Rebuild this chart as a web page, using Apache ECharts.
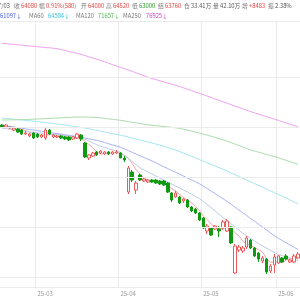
<!DOCTYPE html>
<html><head><meta charset="utf-8">
<script src="https://cdn.jsdelivr.net/npm/echarts@6/dist/echarts.min.js"></script>
<style>html,body{margin:0;padding:0;background:#fff}#c{width:300px;height:300px}</style>
</head><body><div id="c"></div>
<script>
const dates = ['02-18','02-19','02-20','02-21','02-24','02-25','02-26','02-27','02-28',
'03-03','03-04','03-05','03-06','03-07','03-10','03-11','03-12','03-13','03-14','03-17','03-18','03-19','03-20','03-21','03-24','03-25','03-26','03-27','03-28','03-31',
'04-01','04-02','04-03','04-07','04-08','04-09','04-10','04-11','04-14','04-15','04-16','04-17','04-18','04-21','04-22','04-23','04-24','04-25','04-28','04-29','04-30',
'05-06','05-07','05-08','05-09','05-12','05-13','05-14','05-15','05-16','05-19','05-20','05-21','05-22','05-23','05-26','05-27','05-28','05-29','05-30',
'06-03','06-04','06-05','06-06','06-09','06-10'];
const opens = [75200,75000,74900,74700,74800,74700,74300,74100,74400,74300,74000,73900,74700,74000,74000,74100,74000,74000,73800,73900,74200,73400,71900,72100,72500,72400,72300,72500,72300,72400,72400,71900,68500,70500,68700,70200,69600,69500,69700,69700,69600,69600,69400,68400,68000,68000,67600,67700,67000,66800,66400,65900,64600,64900,64800,64800,64900,64600,65000,60400,62700,62600,63000,63700,62900,62400,61600,61800,60600,61200,61400,61900,62100,61500,61500,61900];
const closes = [75000,75200,75000,74900,74500,74300,74400,74300,73900,74000,74200,74700,74300,74200,74100,73900,73800,73700,74000,74300,73800,72000,72200,72400,72200,72600,72500,72300,72500,72500,71900,71700,70900,69700,69400,69700,69800,69700,69500,69400,69300,69200,68500,67700,68400,67400,67800,67000,66600,66400,65700,64900,65100,64200,65100,64600,65500,65600,63400,63100,63000,62900,63900,62900,62100,61800,61900,60500,61100,62000,62100,61500,61800,61700,62100,62300];
const lows = [74900,74900,74800,74600,74400,74200,74200,74000,73800,73900,73900,73700,74200,73900,73900,73800,73700,73600,73700,73800,73600,71900,71700,72000,72100,72300,72200,72200,72200,72300,71900,71500,68300,69500,68300,69600,69500,69400,69400,69300,69200,69100,68400,67500,67900,67300,67400,66900,66500,66300,65600,64800,64300,64100,64700,64000,64700,64500,63300,60300,62500,62400,62800,62800,62000,61500,61400,60300,60400,60400,61300,61400,61700,61400,61400,61800];
const highs = [75300,75300,75100,75000,74900,74800,74600,74400,74500,74400,74300,74900,74800,74300,74200,74200,74100,74100,74100,74400,74300,73500,72300,72500,72600,72700,72600,72600,72600,72700,72500,72100,71100,70700,69600,70300,70000,69800,69800,69800,69700,69700,69500,68500,68600,68100,67900,67800,67100,66900,66500,66000,65300,65000,65200,65100,65700,65800,65100,63300,63200,63100,64100,63800,63000,62500,62100,61900,61300,62300,62200,62000,62300,61800,62300,62500];
const ma5 = [75100,75100,75050,75000,74920,74780,74620,74480,74280,74180,74160,74220,74220,74280,74300,74240,74060,73940,73900,73940,73920,73560,73260,72940,72520,72280,72380,72400,72420,72480,72340,72180,71900,71340,70720,70280,69900,69660,69620,69620,69540,69420,69180,68820,68620,68240,67960,67660,67440,67040,66700,66120,65740,65260,65000,64780,64900,65000,64840,64440,64120,63600,63260,63160,62960,62720,62520,61840,61480,61460,61520,61440,61700,61820,61840,61880];
const ma10 = [74880,74830,74770,74720,74670,74620,74570,74520,74470,74430,74390,74350,74300,74270,74230,74190,74150,74110,74070,74030,73960,73770,73600,73410,73230,73070,72950,72830,72710,72600,72470,72150,71850,71540,71220,70900,70700,70500,70300,70100,69900,69700,69500,69300,69100,68900,68700,68500,68300,68050,67850,67550,67240,66920,66600,66280,65960,65640,65330,65010,64690,64380,64130,63870,63610,63350,63110,62890,62680,62460,62240,62130,62010,61890,61780,61660];
const ma20 = [75170,75110,75050,74990,74930,74870,74810,74750,74700,74640,74580,74520,74460,74400,74340,74280,74220,74160,74100,74050,73980,73900,73820,73740,73660,73570,73450,73330,73210,73100,72980,72800,72640,72460,72290,72120,71950,71780,71610,71420,71220,71030,70840,70650,70470,70280,70090,69900,69710,69520,69330,69090,68840,68580,68330,68080,67830,67560,67280,66990,66710,66420,66140,65850,65570,65280,65000,64710,64430,64140,63870,63650,63420,63200,62970,62750];
const ma60 = [75900,75860,75820,75780,75740,75700,75660,75620,75580,75540,75500,75450,75400,75350,75300,75250,75200,75140,75080,75020,74960,74900,74820,74740,74660,74580,74500,74420,74340,74260,74180,74100,74000,73900,73800,73700,73600,73500,73400,73300,73200,73080,72950,72820,72680,72540,72380,72220,72060,71900,71740,71580,71420,71260,71100,70940,70780,70600,70420,70240,70060,69880,69700,69520,69340,69160,68980,68800,68620,68440,68260,68080,67890,67700,67500,67300];
const ma120 = [75700,75700,75710,75720,75730,75740,75750,75760,75780,75800,75820,75840,75860,75880,75900,75920,75940,75960,75980,76000,76000,76000,75990,75970,75950,75920,75870,75820,75770,75720,75670,75610,75540,75470,75400,75340,75280,75220,75170,75130,75090,75050,75010,74970,74920,74860,74780,74700,74600,74500,74400,74290,74180,74070,73960,73840,73720,73590,73450,73300,73150,73000,72850,72700,72590,72480,72370,72260,72150,72040,71920,71790,71660,71530,71400,71270];
const ma250 = [83380,83340,83300,83260,83220,83180,83140,83100,83060,83030,82990,82950,82920,82880,82840,82750,82650,82550,82460,82370,82270,82150,82020,81900,81780,81660,81520,81380,81230,81100,80970,80830,80700,80560,80410,80270,80120,79980,79850,79740,79620,79500,79390,79280,79170,79050,78910,78780,78640,78500,78370,78230,78090,77950,77800,77660,77520,77380,77240,77100,76960,76820,76680,76540,76410,76290,76160,76040,75910,75790,75660,75530,75400,75270,75150,75020];
const gridValues = [60000,65000,70000,75000,80000];
const headDate = '2025/07/03';
const headLabels = ['收','幅','开','高','低','结','仓','量','增','振'];
const headValues = ['64080','0.91%(580)','64000','64520','63000','63760','33.41万','42.10万','+8483','2.38%'];
const maLabels = ['MA20','MA60','MA120','MA250'];
const maValues = ['61097↓','64584↓','71657↓','76925↓'];

const RED='#e8423f', GREEN='#1f9a1f', GRAY='#777', DARK='#555';
const valColors = [RED,RED,RED,RED,GREEN,RED,DARK,DARK,RED,DARK];
const maColors = ['#4a5ff0','#2ec4dc','#4cb84c','#d63ad6'];
const FONT = '"Noto Sans CJK SC", sans-serif';
const FS = 5.8;
const f = (s)=> s+'px '+FONT;

const graphics = [];
graphics.push({type:'text', x:10, y:5.5, style:{text:headDate, align:'right', verticalAlign:'middle', fill:DARK, font:f(FS)}});
const lx = [14,39,81,106,132,158,184,213,242,268];
headLabels.forEach((t,i)=>{
  graphics.push({type:'text', x:lx[i], y:5.5, style:{text:t, verticalAlign:'middle', fill:GRAY, font:f(FS)}});
  graphics.push({type:'text', x:lx[i]+FS+1.3, y:5.5, style:{text:headValues[i], verticalAlign:'middle', fill:valColors[i], font:f(FS)}});
});
const mLabX = [null,29,76,123];
const mValX = [0,48,98,146];
maLabels.forEach((t,i)=>{
  if(i>0) graphics.push({type:'text', x:mLabX[i], y:15.5, style:{text:t, verticalAlign:'middle', fill:GRAY, font:f(FS)}});
  graphics.push({type:'text', x:mValX[i], y:15.5, style:{text:maValues[i], verticalAlign:'middle', fill:maColors[i], font:f(FS)}});
});

const monthStart = (idx)=> idx>0 && dates[idx].slice(0,2)!==dates[idx-1].slice(0,2);
const candle = dates.map((d,i)=>[opens[i],closes[i],lows[i],highs[i]]);
const lineS = (name,data,color)=>({name,type:'line',data,symbol:'none',smooth:false,silent:true,
  lineStyle:{width:1,color},z:3});

const chart = echarts.init(document.getElementById('c'),null,{renderer:'canvas'});
chart.setOption({
  animation:false,
  backgroundColor:'#fff',
  graphic:graphics,
  grid:{left:0,right:0,top:21,bottom:13,containLabel:false},
  xAxis:{type:'category',data:dates,boundaryGap:true,
    axisLine:{show:false},axisTick:{show:false},
    axisLabel:{interval:(i)=>monthStart(i),formatter:(v)=>'25-'+v.slice(0,2),align:'left',margin:4,
      fontSize:6,color:'#999',fontFamily:FONT},
    splitLine:{show:true,interval:(i)=>monthStart(i),lineStyle:{color:'#ebebeb',width:1}}},
  yAxis:{type:'value',min:59000,max:85600,position:'right',axisLabel:{show:false},axisLine:{show:false},
    axisTick:{show:false},splitLine:{show:false}},
  series:[
    {type:'candlestick',data:candle,barWidth:3,z:4,
      itemStyle:{color:'#ffffff',color0:'#119a11',borderColor:'#f05a5a',borderColor0:'#119a11',borderWidth:1},
      markLine:{silent:true,symbol:'none',label:{show:false},animation:false,
        lineStyle:{color:'#ebebeb',type:'solid',width:1},
        data:gridValues.concat([59000,85600]).map(v=>({yAxis:v}))}},
    lineS('MA5',ma5,'#f4a6a6'),
    lineS('MA10',ma10,'#bccbe0'),
    lineS('MA20',ma20,'#aab3f6'),
    lineS('MA60',ma60,'#a4e6f2'),
    lineS('MA120',ma120,'#acdcac'),
    lineS('MA250',ma250,'#f0a0f0')
  ]
});
</script></body></html>
